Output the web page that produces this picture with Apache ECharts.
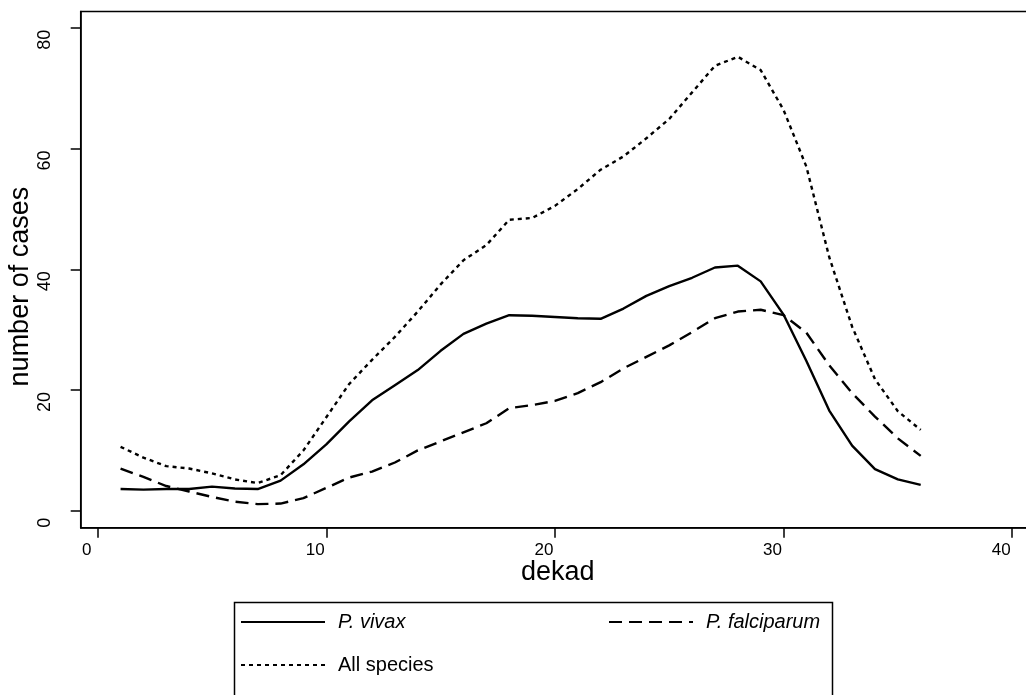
<!DOCTYPE html>
<html lang="en">
<head>
    <meta charset="UTF-8">
    <script src="https://cdn.jsdelivr.net/npm/echarts@6/dist/echarts.min.js"></script>
    <style>
        html, body { margin: 0; padding: 0; background: #fff; }
        #chart { width: 1026px; height: 695px; }
    </style>
</head>
<body>
<div id="chart"></div>
<script>
    // dekad 1..36
    var dekads = [1,2,3,4,5,6,7,8,9,10,11,12,13,14,15,16,17,18,19,20,21,22,23,24,25,26,27,28,29,30,31,32,33,34,35,36];
    var vivax = [3.6,3.5,3.6,3.6,4.0,3.7,3.6,5.0,7.7,11.0,14.8,18.3,20.8,23.3,26.5,29.3,31.0,32.4,32.3,32.1,31.9,31.8,33.5,35.6,37.2,38.6,40.3,40.6,38.0,32.5,24.8,16.6,10.8,6.9,5.2,4.3];
    var falciparum = [7.0,5.6,4.1,3.2,2.3,1.5,1.1,1.2,2.1,3.8,5.5,6.5,8.0,10.0,11.5,13.0,14.5,17.0,17.5,18.2,19.5,21.3,23.6,25.5,27.4,29.6,31.9,33.0,33.3,32.4,29.5,24.1,19.5,15.6,12.0,9.1];
    var allSpecies = [10.6,8.8,7.4,7.0,6.2,5.2,4.6,5.9,10.0,15.5,21.0,25.0,28.8,33.0,37.5,41.5,44.0,48.2,48.5,50.5,53.3,56.5,58.7,61.7,64.9,69.3,73.7,75.2,73.0,66.4,57.0,42.0,30.5,21.8,16.5,13.4];
    var xTicks = [0,10,20,30,40];
    var yTicks = [0,20,40,60,80];

    function pairs(ys) {
        return dekads.map(function (d, i) { return [d, ys[i]]; });
    }

    var font = "'Liberation Sans', Arial, sans-serif";
    var chart = echarts.init(document.getElementById('chart'));

    // legend entries: line sample only, no marker
    function legendItem(name, left, top, italic) {
        return {
            data: [name], left: left, top: top, padding: 0,
            itemWidth: 84, itemHeight: 20,
            itemStyle: { color: 'rgba(0,0,0,0)', borderWidth: 0 },
            textStyle: { fontFamily: font, fontSize: 20, fontStyle: italic ? 'italic' : 'normal',
                         color: '#000', padding: [0, 0, 0, 8] }
        };
    }

    var option = {
        animation: false,
        backgroundColor: '#fff',
        grid: {
            left: 80.7, top: 11.5, right: -9, bottom: 167.3,
            outerBoundsMode: 'none',
            show: true, borderColor: '#000', borderWidth: 1.5
        },
        xAxis: {
            type: 'value', min: -0.744, max: 41,
            name: 'dekad', nameLocation: 'middle', nameGap: 31, nameMoveOverlap: false,
            nameTextStyle: { fontFamily: font, fontSize: 27, color: '#000' },
            axisLine: { show: true, onZero: false, lineStyle: { color: '#000', width: 1.5 } },
            axisTick: { show: true, customValues: xTicks, length: 10, lineStyle: { color: '#000', width: 1.5 } },
            axisLabel: { customValues: xTicks, margin: 14, fontFamily: font, fontSize: 17, color: '#000',
                         padding: [0, 22, 0, 0] },
            splitLine: { show: false }
        },
        yAxis: {
            type: 'value', min: -2.8, max: 82.7,
            name: 'number of cases', nameLocation: 'middle', nameGap: 47, nameMoveOverlap: false,
            nameTextStyle: { fontFamily: font, fontSize: 27, color: '#000', padding: [0, 34, 0, 0] },
            axisLine: { show: true, onZero: false, lineStyle: { color: '#000', width: 1.5 } },
            axisTick: { show: true, customValues: yTicks, length: 10, lineStyle: { color: '#000', width: 1.5 } },
            axisLabel: { customValues: yTicks, rotate: 90, margin: 27, fontFamily: font, fontSize: 18, color: '#000',
                         padding: [0, 24, 0, 0] },
            splitLine: { show: false }
        },
        legend: [
            legendItem('P. vivax', 240, 612, true),
            legendItem('P. falciparum', 608, 612, true),
            legendItem('All species', 240, 655, false)
        ],
        graphic: [{
            type: 'rect', left: 232, top: 600,
            shape: { width: 598, height: 100 },
            style: { fill: 'none', stroke: '#000', lineWidth: 1.5 }
        }],
        series: [
            { name: 'P. vivax', type: 'line', data: pairs(vivax), symbol: 'none', color: '#000',
              lineStyle: { color: '#000', width: 2.4, type: 'solid' } },
            { name: 'P. falciparum', type: 'line', data: pairs(falciparum), symbol: 'none', color: '#000',
              lineStyle: { color: '#000', width: 2.4, type: [13, 7] } },
            { name: 'All species', type: 'line', data: pairs(allSpecies), symbol: 'none', color: '#000',
              lineStyle: { color: '#000', width: 2.4, type: [4, 4] } }
        ]
    };
    chart.setOption(option);
</script>
</body>
</html>
